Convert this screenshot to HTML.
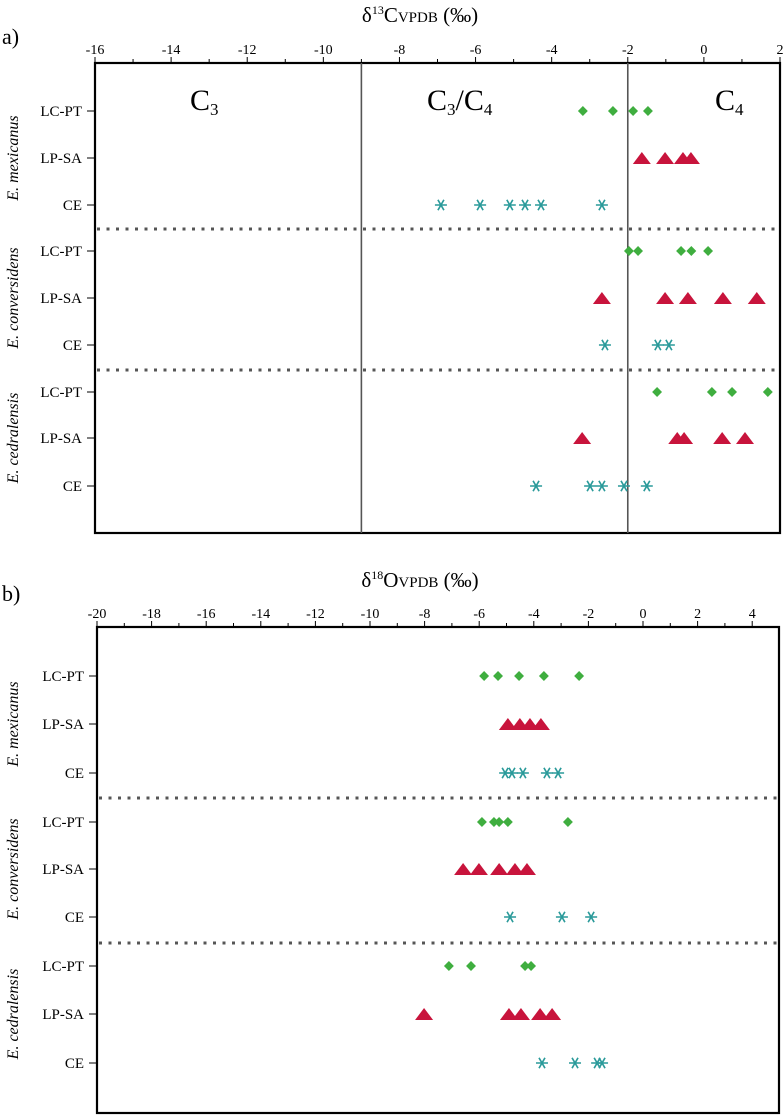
<!DOCTYPE html>
<html><head><meta charset="utf-8"><style>
body{margin:0;background:#fff;}
svg{display:block;font-family:"Liberation Serif",serif;}
</style></head><body>
<svg id="chart" width="783" height="1118" viewBox="0 0 783 1118" xmlns="http://www.w3.org/2000/svg"></svg>
<script>
const rowLabels = ["LC-PT","LP-SA","CE"];
const species = ["E. mexicanus","E. conversidens","E. cedralensis"];
const cTicks = [-16,-14,-12,-10,-8,-6,-4,-2,0,2];
const oTicks = [-20,-18,-16,-14,-12,-10,-8,-6,-4,-2,0,2,4];
const cBoundaries = [-9,-2];
// carbon data
const cMexLC=[-3.18,-2.39,-1.86,-1.47], cMexLP=[-1.63,-1.02,-0.55,-0.34], cMexCE=[-6.91,-5.88,-5.10,-4.70,-4.28,-2.68];
const cConLC=[-1.97,-1.73,-0.60,-0.33,0.11], cConLP=[-2.68,-1.02,-0.42,0.50,1.39], cConCE=[-2.60,-1.21,-0.92];
const cCedLC=[-1.23,0.21,0.74,1.68], cCedLP=[-3.20,-0.70,-0.52,0.48,1.08], cCedCE=[-4.41,-2.99,-2.68,-2.10,-1.50];
// oxygen data
const oMexLC=[-5.82,-5.31,-4.54,-3.63,-2.34], oMexLP=[-4.95,-4.51,-4.14,-3.74], oMexCE=[-5.05,-4.80,-4.40,-3.52,-3.11];
const oConLC=[-5.90,-5.46,-5.27,-4.95,-2.75], oConLP=[-6.59,-6.01,-5.27,-4.69,-4.25], oConCE=[-4.87,-2.97,-1.90];
const oCedLC=[-7.11,-6.30,-4.32,-4.10], oCedLP=[-8.02,-4.91,-4.47,-3.77,-3.33], oCedCE=[-3.70,-2.49,-1.68,-1.50];

const NS="http://www.w3.org/2000/svg";
const svg=document.getElementById('chart');
function mk(tag,attrs,parent,text){const e=document.createElementNS(NS,tag);for(const k in attrs)e.setAttribute(k,attrs[k]);if(text!==undefined)e.textContent=text;(parent||svg).appendChild(e);return e;}

function panel(cfg){
  const g=mk('g',{});
  
  
  const xs=v=>cfg.fx+(v-cfg.v0)*cfg.ppu;
  const fr=mk('rect',{x:cfg.fx,y:cfg.fy,width:cfg.fw,height:cfg.fh,fill:'none',stroke:'#000','stroke-width':2.2},g);
  
  cfg.ticks.forEach((t,i)=>{
    const x=xs(t);
    mk('line',{x1:x,x2:x,y1:cfg.fy,y2:cfg.fy-6,stroke:'#000','stroke-width':1},g);
    if(i<cfg.ticks.length-1){const xm=xs(t+1);mk('line',{x1:xm,x2:xm,y1:cfg.fy,y2:cfg.fy-4,stroke:'#000','stroke-width':1},g);}
    const tl=mk('text',{x:x,y:cfg.fy-9,'font-size':14,'text-anchor':'middle'},g,String(t));
    
  });
  cfg.seps.forEach(y=>{
    const l=mk('line',{x1:cfg.fx+2,x2:cfg.fx+cfg.fw,y1:y,y2:y,stroke:'#555','stroke-width':3,'stroke-dasharray':'3,6.5'},g);
    
  });
  cfg.rows.forEach((y,i)=>{
    mk('line',{x1:cfg.fx-8,x2:cfg.fx,y1:y,y2:y,stroke:'#000'},g);
    const t=mk('text',{x:cfg.fx-13,y:y+5,'font-size':15,'text-anchor':'end'},g,rowLabels[i%3]);
    
  });
  species.forEach((s,i)=>{
    const cy=cfg.rows[i*3+1];
    const t=mk('text',{x:0,y:0,'font-size':16,'font-style':'italic','text-anchor':'middle',transform:`translate(${cfg.spx},${cy}) rotate(-90)`},g,s);
    
  });
  return {g,xs,cfg};
}
function marks(p,data){
  data.forEach((arr,idx)=>{
    const y=p.cfg.rows[idx], kind=idx%3;
    arr.forEach(v=>{
      const x=p.xs(v);let m;
      if(kind===0){m=mk('rect',{x:x-3.5,y:y-3.5,width:7,height:7,fill:'#3fae3f',transform:`rotate(45 ${x} ${y})`},p.g);}
      else if(kind===1){m=mk('polygon',{points:`${x-9},${y+6} ${x},${y-6} ${x+9},${y+6}`,fill:'#c8143c'},p.g);}
      else{m=mk('path',{d:`M${x-6} ${y}H${x+6}M${x-3} ${y-5.2}L${x+3} ${y+5.2}M${x+3} ${y-5.2}L${x-3} ${y+5.2}`,stroke:'#2a9a9a','stroke-width':1.6,fill:'none'},p.g);}
      
    });
  });
}

const a=panel({name:'panel-a-carbon',fx:95,fy:63,fw:685,fh:470,v0:-16,ppu:685/18,ticks:cTicks,
  seps:[229,370],rows:[111,158,205,251,298,345,392,438,486],spx:18});
cBoundaries.forEach(b=>{const l=mk('line',{x1:a.xs(b),x2:a.xs(b),y1:63,y2:533,stroke:'#555','stroke-width':1.6},a.g);});
marks(a,[cMexLC,cMexLP,cMexCE,cConLC,cConLP,cConCE,cCedLC,cCedLP,cCedCE]);
[[190,false],[427,true],[715,false]].forEach((r,i)=>{
  const t=mk('text',{x:r[0],y:110,'font-size':30},a.g);
  
  mk('tspan',{},t,'C');mk('tspan',{'font-size':17,dy:5},t,i===2?'4':'3');
  if(r[1]){mk('tspan',{dy:-5},t,'/C');mk('tspan',{'font-size':17,dy:5},t,'4');}
});
const la=mk('text',{x:2,y:44,'font-size':22},a.g,'a)');
const ta=mk('text',{x:420,y:22,'font-size':21,'text-anchor':'middle'});

mk('tspan',{},ta,'δ');mk('tspan',{'font-size':12,dy:-8},ta,'13');mk('tspan',{dy:8},ta,'C');mk('tspan',{'font-size':15},ta,'VPDB');mk('tspan',{},ta,' (‰)');

const b=panel({name:'panel-b-oxygen',fx:97,fy:627,fw:682,fh:486,v0:-20,ppu:27.3,ticks:oTicks,
  seps:[798,943],rows:[676,724,773,822,869,917,966,1014,1063],spx:18});
marks(b,[oMexLC,oMexLP,oMexCE,oConLC,oConLP,oConCE,oCedLC,oCedLP,oCedCE]);
const lb=mk('text',{x:2,y:601,'font-size':22},b.g,'b)');
const tb=mk('text',{x:420,y:587,'font-size':21,'text-anchor':'middle'});

mk('tspan',{},tb,'δ');mk('tspan',{'font-size':12,dy:-8},tb,'18');mk('tspan',{dy:8},tb,'O');mk('tspan',{'font-size':15},tb,'VPDB');mk('tspan',{},tb,' (‰)');
</script>
</body></html>
